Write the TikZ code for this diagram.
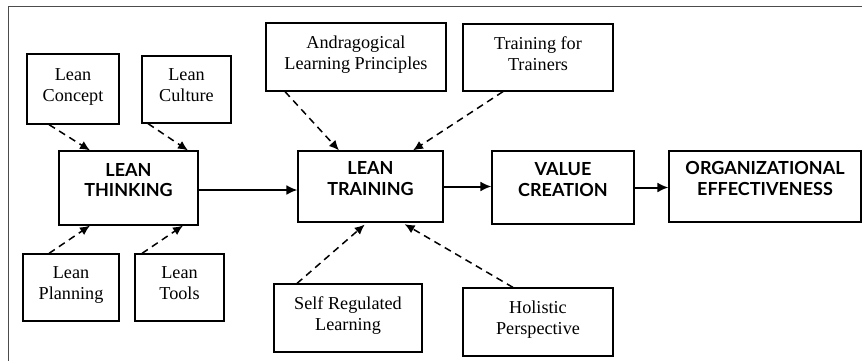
\documentclass[tikz,border=0pt]{standalone}
\usepackage{fontspec}
\setmainfont{Liberation Serif}
\newfontfamily\headfont{Lato}
\usetikzlibrary{arrows.meta}

\tikzset{
    factor/.style={draw, line width=1.2pt, align=center, inner sep=2pt, text depth=8pt,
        font=\fontsize{18.2}{21}\selectfont},
    stage/.style={draw, line width=1.2pt, align=center, inner sep=2pt, text depth=16pt,
        font=\headfont\bfseries\fontsize{18}{20.5}\selectfont},
    feed/.style={-{Latex[length=10pt,width=9pt]}, line width=1.5pt, dash pattern=on 7pt off 5pt},
    flow/.style={-{Latex[length=11pt,width=10pt]}, line width=2pt}
}

\begin{document}
\begin{tikzpicture}[x=1pt, y=1pt]
    \useasboundingbox (0,0) rectangle (862,-360);

    % Outer frame
    \draw[line width=0.9pt, black!70] (8,-6) rectangle (880,-380);

    % Main chain
    \node[stage, minimum width=139pt, minimum height=74pt] (thinking) at (128.5,-188) {LEAN\\THINKING};
    \node[stage, minimum width=145pt, minimum height=71pt] (training) at (370.5,-186.5) {LEAN\\TRAINING};
    \node[stage, minimum width=142pt, minimum height=73pt] (value) at (563,-187.5) {VALUE\\CREATION};
    \node[stage, minimum width=192pt, minimum height=71pt] (org) at (765,-186.5) {ORGANIZATIONAL\\EFFECTIVENESS};

    % Inputs to lean thinking
    \node[factor, minimum width=92pt, minimum height=70pt] (concept) at (73,-89) {Lean\\Concept};
    \node[factor, minimum width=89pt, minimum height=67pt] (culture) at (186.5,-89.5) {Lean\\Culture};
    \node[factor, minimum width=96pt, minimum height=67pt] (planning) at (71,-287.5) {Lean\\Planning};
    \node[factor, minimum width=89pt, minimum height=67pt] (tools) at (179.5,-287.5) {Lean\\Tools};

    % Inputs to lean training
    \node[factor, minimum width=180pt, minimum height=68pt] (andra) at (356,-57) {Andragogical\\Learning Principles};
    \node[factor, minimum width=150pt, minimum height=67pt] (trainers) at (538,-57.5) {Training for\\Trainers};
    \node[factor, minimum width=148pt, minimum height=68pt] (selfreg) at (348,-318) {Self Regulated\\Learning};
    \node[factor, minimum width=150pt, minimum height=68pt] (holistic) at (538,-322) {Holistic\\Perspective};

    % Dashed influences
    \draw[feed] ([xshift=-24pt]concept.south) -- ([xshift=-38.5pt]thinking.north);
    \draw[feed] ([xshift=-38.5pt]culture.south) -- ([xshift=59.5pt]thinking.north);
    \draw[feed] ([xshift=-22pt]planning.north) -- ([xshift=-38.5pt]thinking.south);
    \draw[feed] ([xshift=-37.5pt]tools.north) -- ([xshift=54.5pt]thinking.south);
    \draw[feed] ([xshift=-71pt]andra.south) -- ([xshift=-31.5pt]training.north);
    \draw[feed] ([xshift=-35pt]trainers.south) -- ([xshift=42.5pt]training.north);
    \draw[feed, shorten >=3pt] ([xshift=-51pt]selfreg.north) -- ([xshift=-3.5pt]training.south);
    \draw[feed, shorten >=3pt] ([xshift=-25pt]holistic.north) -- ([xshift=31.5pt]training.south);

    % Solid flow
    \draw[flow] ([yshift=-2pt]thinking.east) -- ([yshift=-2pt]thinking.east -| training.west);
    \draw[flow] (training.east) -- (training.east -| value.west);
    \draw[flow] (value.east) -- (value.east -| org.west);
\end{tikzpicture}
\end{document}
